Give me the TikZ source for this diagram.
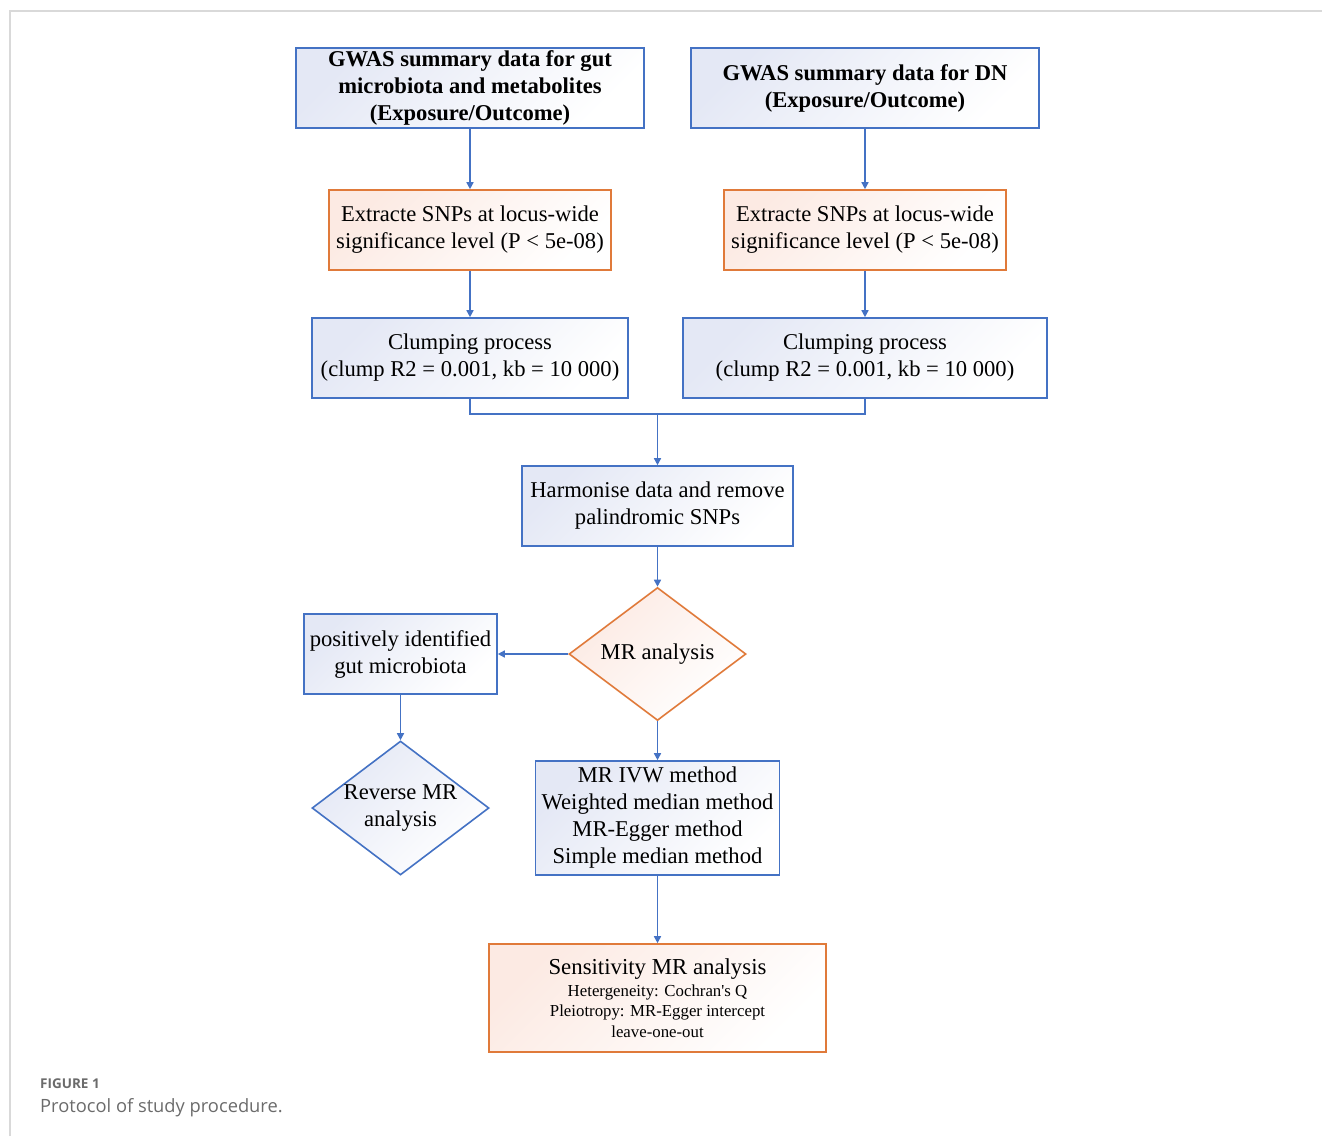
\documentclass[tikz,border=0pt]{standalone}
\usepackage{fontspec}
\setmainfont{Liberation Serif}
\newfontfamily\capfont{Open Sans}
\usetikzlibrary{shapes.geometric,arrows.meta}
\definecolor{boxblue}{HTML}{4472C4}
\definecolor{boxorange}{HTML}{E07A3A}
\definecolor{fillblue}{HTML}{E4E8F5}
\definecolor{fillorange}{HTML}{FCEAE3}
\definecolor{framegray}{HTML}{D9D9D9}
\definecolor{capgray}{HTML}{6B6B6B}
\tikzset{
  txt/.style={font=\fontsize{22.6}{27}\selectfont},
  bluebox/.style={draw=boxblue, line width=1.6pt, top color=fillblue, bottom color=white, shading angle=45, align=center, inner sep=0pt, txt},
  orangebox/.style={draw=boxorange, line width=1.6pt, top color=fillorange, bottom color=white, shading angle=45, align=center, inner sep=0pt, txt},
  bluedia/.style={diamond, draw=boxblue, line width=1.6pt, top color=fillblue, bottom color=white, shading angle=45, inner sep=0pt},
  orangedia/.style={diamond, draw=boxorange, line width=1.6pt, top color=fillorange, bottom color=white, shading angle=45, inner sep=0pt},
  arr/.style={draw=boxblue, line width=1.5pt, -{Triangle[length=7pt,width=7pt]}},
  conn/.style={draw=boxblue, line width=1.5pt},
}
\begin{document}
\begin{tikzpicture}[x=1pt,y=-1pt]
\useasboundingbox (0,0) rectangle (1322,1136);
\draw[framegray, line width=1.5pt] (10,1136) -- (10,11) -- (1322,11);

\node[bluebox, minimum width=348, minimum height=80, font=\fontsize{22.6}{27}\selectfont\bfseries] (g1) at (470,88) {GWAS summary data for gut\\microbiota and metabolites\\(Exposure/Outcome)};
\node[bluebox, minimum width=348, minimum height=80, font=\fontsize{22.6}{27}\selectfont\bfseries] (g2) at (865,88) {GWAS summary data for DN\\(Exposure/Outcome)};

\node[orangebox, minimum width=282, minimum height=80] (e1) at (470,230) {Extracte SNPs at locus-wide\\significance level (P < 5e-08)};
\node[orangebox, minimum width=282, minimum height=80] (e2) at (865,230) {Extracte SNPs at locus-wide\\significance level (P < 5e-08)};

\node[bluebox, minimum width=316, minimum height=80] (c1) at (470,358) {Clumping process\\(clump R2 = 0.001, kb = 10 000)};
\node[bluebox, minimum width=364, minimum height=80] (c2) at (865,358) {Clumping process\\(clump R2 = 0.001, kb = 10 000)};

\node[bluebox, minimum width=271, minimum height=80] (h) at (657.5,506) {Harmonise data and remove\\palindromic SNPs};

\node[orangedia, minimum width=177, minimum height=133, label={[txt]center:MR analysis}] (mr) at (657.5,654) {};

\node[bluebox, minimum width=193, minimum height=80] (p) at (400.5,654) {positively identified\\gut microbiota};

\node[bluedia, minimum width=177, minimum height=134, label={[txt, align=center]center:Reverse MR\\analysis}] (rev) at (400.5,808) {};

\node[bluebox, minimum width=244, minimum height=114] (m) at (657.5,818) {MR IVW method\\Weighted median method\\MR-Egger method\\Simple median method};

\node[orangebox, minimum width=337, minimum height=108, font=\fontsize{16.8}{20.5}\selectfont] (s) at (657.5,998) {{\fontsize{22.8}{27}\selectfont Sensitivity MR analysis}\\[1pt]
Hetergeneity: Cochran\textquotesingle s Q\\
Pleiotropy: MR-Egger intercept\\
leave-one-out};

\coordinate (j) at (657.5,414);
\draw[arr] (g1) -- (e1);
\draw[arr] (g2) -- (e2);
\draw[arr] (e1) -- (c1);
\draw[arr] (e2) -- (c2);
\draw[conn] (c1.south) |- (j) -| (c2.south);
\draw[arr] (j) -- (h.north);
\draw[arr] (h) -- (mr.north);
\draw[arr] (mr.west) -- (p.east);
\draw[arr] (p) -- (rev.north);
\draw[arr] (mr.south) -- (m.north);
\draw[arr] (m) -- (s);

\node[anchor=base west, inner sep=0pt, text=capgray, font=\capfont\fontsize{13.5}{16}\selectfont\bfseries] (fig) at (40,1088) {FIGURE 1};
\node[anchor=base west, inner sep=0pt, text=capgray, font=\capfont\fontsize{18.3}{22}\selectfont] (cap) at (40,1112) {Protocol of study procedure.};
\end{tikzpicture}
\end{document}
